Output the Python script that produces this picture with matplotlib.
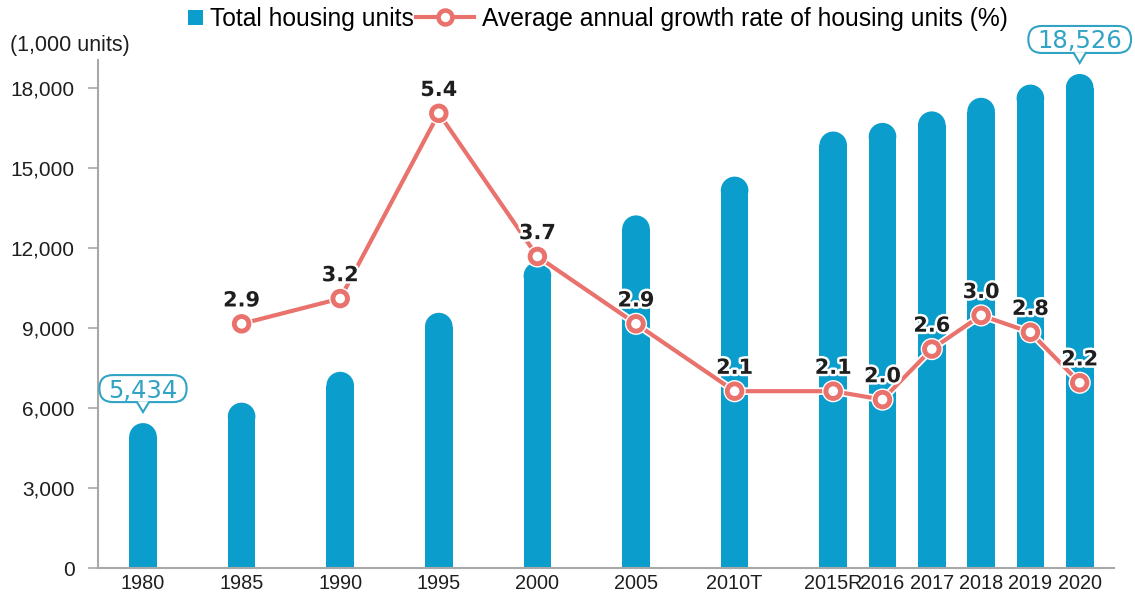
import matplotlib
matplotlib.use('Agg')
import matplotlib.pyplot as plt
import matplotlib.patheffects as pe
import matplotlib.transforms as mtransforms
from matplotlib.patches import Ellipse, Rectangle, Patch, Polygon, FancyBboxPatch
from matplotlib.lines import Line2D
from matplotlib.legend_handler import HandlerPatch

# ---------------- data ----------------
categories = ['1980', '1985', '1990', '1995', '2000', '2005', '2010T',
              '2015R', '2016', '2017', '2018', '2019', '2020']
positions = [0, 1, 2, 3, 4, 5, 6, 7, 7.5, 8, 8.5, 9, 9.5]
housing_units = [5434, 6200, 7357, 9570, 11472, 13223, 14677,
                 16367, 16692, 17123, 17633, 18127, 18526]
growth_categories = categories[1:]
growth_rate = [2.9, 3.2, 5.4, 3.7, 2.9, 2.1, 2.1, 2.0, 2.6, 3.0, 2.8, 2.2]
callout_categories = ['1980', '2020']
yticks = [0, 3000, 6000, 9000, 12000, 15000, 18000]
legend_labels = ['Total housing units',
                 'Average annual growth rate of housing units (%)']
unit_label = '(1,000 units)'

# ---------------- style ----------------
BLUE = '#0b9dcc'
SALMON = '#e9726c'
TEAL = '#31a3c4'
TXT = '#1e1e1e'
GRAY = '#a8a8a8'
SANS = ['Liberation Sans', 'DejaVu Sans']

W, H = 1135, 598
fig = plt.figure(figsize=(W / 100, H / 100), dpi=100)
ax = fig.add_axes([98 / W, 1 - 568 / H, (1114 - 98) / W, (568 - 60) / H])
ax2 = ax.twinx()

xmin, xmax = (98 - 143) / 98.6, (1114 - 143) / 98.6
ymax = 19050
ax.set_xlim(xmin, xmax)
ax.set_ylim(0, ymax)
ax2.set_ylim(0, 508 / 84.2)

# ---------------- bars with rounded tops ----------------
bw = 0.28
px_per_x = (1114 - 98) / (xmax - xmin)
px_per_y = 508 / ymax
ry = (bw * px_per_x / 2) / px_per_y
ax.bar(positions, [v - ry for v in housing_units], width=bw, color=BLUE,
       linewidth=0, zorder=2)
for p, v in zip(positions, housing_units):
    ax.add_patch(Ellipse((p, v - ry), bw, 2 * ry, facecolor=BLUE,
                         linewidth=0, zorder=2))

# ---------------- line ----------------
gpos = [positions[categories.index(c)] for c in growth_categories]
ax2.plot(gpos, growth_rate, color=SALMON, lw=3, marker='o', ms=10.5,
         mfc='white', mec=SALMON, mew=3.5, zorder=3,
         path_effects=[pe.Stroke(linewidth=5.5, foreground='white'), pe.Normal()])
for p, r in zip(gpos, growth_rate):
    ax2.annotate(f'{r:.1f}', (p, r), xytext=(0, 12.5), textcoords='offset points',
                 ha='center', va='baseline', fontsize=15, fontweight='bold',
                 family='DejaVu Sans', color=TXT, zorder=4,
                 path_effects=[pe.withStroke(linewidth=3.5, foreground='white')])

# ---------------- callouts ----------------
renderer = fig.canvas.get_renderer()
for c in callout_categories:
    i = categories.index(c)
    p, v = positions[i], housing_units[i]
    trans = fig.dpi_scale_trans + mtransforms.ScaledTranslation(p, v, ax.transData)
    label = f'{v:,}'
    t = ax.text(0, 0.255, label, transform=trans, ha='center', va='baseline',
                fontsize=17.5, family='DejaVu Sans', color=TEAL, zorder=8,
                clip_on=False)
    tw = t.get_window_extent(renderer).width / 100
    bwid = tw + 0.18
    ax.add_patch(FancyBboxPatch((-bwid / 2, 0.21), bwid, 0.27,
                                boxstyle='round,pad=0,rounding_size=0.135',
                                transform=trans, facecolor='white', edgecolor=TEAL,
                                lw=1.5, zorder=6, clip_on=False))
    ax.add_patch(Polygon([(-0.065, 0.218), (0, 0.11), (0.065, 0.218)], closed=False,
                         transform=trans, facecolor='white', edgecolor=TEAL,
                         lw=1.5, zorder=7, clip_on=False))

# ---------------- axes styling ----------------
for s in ['top', 'right']:
    ax.spines[s].set_visible(False)
for s in ax2.spines.values():
    s.set_visible(False)
ax.spines['left'].set_color(GRAY)
ax.spines['bottom'].set_color(GRAY)
ax.spines['left'].set_linewidth(1.5)
ax.spines['bottom'].set_linewidth(1.5)
ax2.set_yticks([])
ax2.tick_params(axis='both', length=0, labelright=False)

ax.set_yticks(yticks)
ax.set_yticklabels([f'{y:,}' for y in yticks], family=SANS, fontsize=15, color=TXT)
ax.tick_params(axis='y', length=7, width=1.2, color=GRAY, pad=10)
ax.set_xticks(positions)
ax.set_xticklabels(categories, family=SANS, fontsize=14.3, color=TXT)
ax.tick_params(axis='x', length=0, pad=4)

fig.text(10 / W, 1 - 45 / H, unit_label, ha='left', va='center', fontsize=15.5,
         family=SANS, color=TXT)

# ---------------- legend ----------------
class SquareHandler(HandlerPatch):
    def create_artists(self, legend, orig_handle, xdescent, ydescent, width,
                       height, fontsize, trans):
        s = 0.6 * fontsize
        r = Rectangle((width - s - xdescent, (height - s) / 2 - ydescent), s, s,
                      facecolor=orig_handle.get_facecolor(), linewidth=0,
                      transform=trans)
        return [r]

h1 = Patch(facecolor=BLUE)
h2 = Line2D([], [], color=SALMON, lw=3, marker='o', ms=10, mfc='white',
            mec=SALMON, mew=3.3)
fig.legend([h1, h2], legend_labels, loc='center left',
           bbox_to_anchor=(145 / W, 1 - 19 / H), ncol=2, frameon=False,
           prop={'family': SANS, 'size': 17.7}, handlelength=2.35,
           handletextpad=0.3, columnspacing=0.1, borderpad=0, borderaxespad=0,
           numpoints=1, handler_map={Patch: SquareHandler()})

fig.savefig('out.png', dpi=100)
